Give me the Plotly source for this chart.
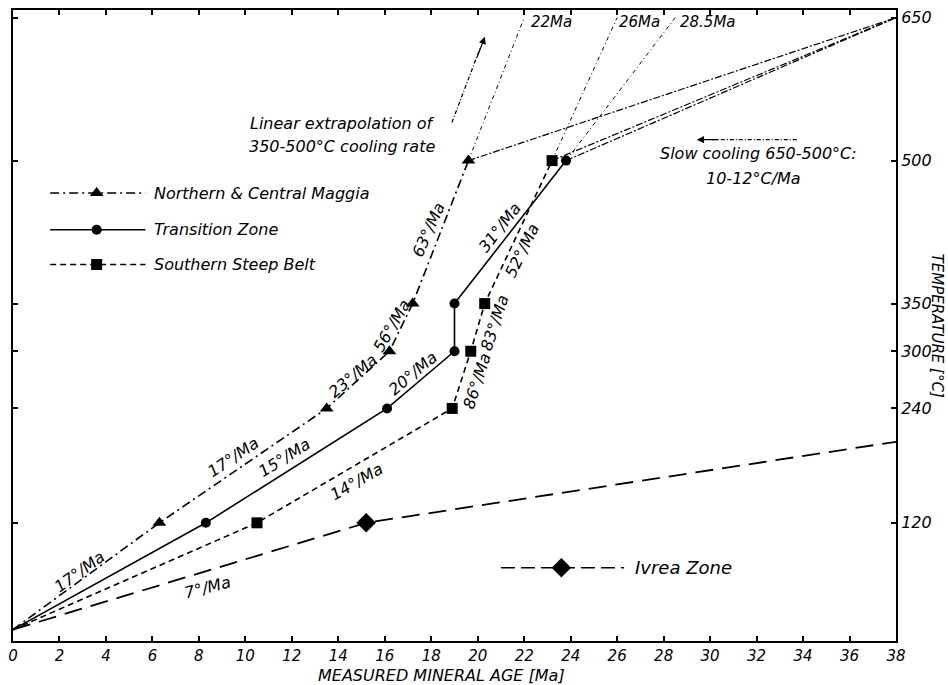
import plotly.graph_objects as go

# ---------------- data ----------------
T_SURFACE = 8
age_nc = [0, 6.3, 13.5, 16.2, 17.2, 19.6]      # Northern & Central Maggia
temp_nc = [T_SURFACE, 120, 240, 300, 350, 500]
age_tz = [0, 8.3, 16.1, 19.0, 19.0, 23.8]      # Transition Zone
temp_tz = [T_SURFACE, 120, 240, 300, 350, 500]
age_ssb = [0, 10.5, 18.9, 19.7, 20.3, 23.2]    # Southern Steep Belt
temp_ssb = [T_SURFACE, 120, 240, 300, 350, 500]
age_iv = [0, 15.2, 38]                          # Ivrea Zone
temp_iv = [T_SURFACE, 120, 205]

age_hot, temp_hot = 38, 650                     # slow-cooling convergence point
extrap_ages = [22, 28.5, 26]                    # extrapolated 650 °C ages (NC, TZ, SSB)

x_ticks = list(range(0, 39, 2))
y_ticks = [120, 240, 300, 350, 500, 650]

# legend sample geometry (data space)
leg_x = [1.6, 3.6, 5.7]
leg_y = [466, 427.5, 391]
iv_leg_x = [21.0, 23.6, 26.3]
iv_leg_y = 72.8

FONT = "DejaVu Sans"
BLK = "black"

fig = go.Figure()

series = [
    (age_nc, temp_nc, "9px,4px,2px,4px", "triangle-up", 12, "Northern & Central Maggia"),
    (age_tz, temp_tz, "solid", "circle", 10, "Transition Zone"),
    (age_ssb, temp_ssb, "6px,4px", "square", 11, "Southern Steep Belt"),
]

for (ax_, ty_, dash, sym, ms, name), ex in zip(series, extrap_ages):
    # slow cooling 650-500
    fig.add_trace(go.Scatter(x=[ax_[-1], age_hot], y=[ty_[-1], temp_hot], mode="lines",
                             line=dict(color=BLK, width=1.2, dash="7px,2px,2px,2px"),
                             showlegend=False, hoverinfo="skip"))
    # linear extrapolation of 350-500 cooling rate
    fig.add_trace(go.Scatter(x=[ax_[-1], ex], y=[ty_[-1], temp_hot], mode="lines",
                             line=dict(color=BLK, width=1.0, dash="4px,3px,1px,3px"),
                             showlegend=False, hoverinfo="skip"))
    # main series line
    fig.add_trace(go.Scatter(x=ax_, y=ty_, mode="lines",
                             line=dict(color=BLK, width=1.6, dash=dash),
                             showlegend=False, hoverinfo="skip"))
    # markers (excluding surface origin)
    fig.add_trace(go.Scatter(x=ax_[1:], y=ty_[1:], mode="markers",
                             marker=dict(symbol=sym, size=ms, color=BLK),
                             showlegend=False, name=name))

# Ivrea Zone
fig.add_trace(go.Scatter(x=age_iv, y=temp_iv, mode="lines",
                         line=dict(color=BLK, width=1.8, dash="18px,9px"),
                         showlegend=False, hoverinfo="skip"))
fig.add_trace(go.Scatter(x=age_iv[1:2], y=temp_iv[1:2], mode="markers",
                         marker=dict(symbol="diamond", size=15, color=BLK),
                         showlegend=False, name="Ivrea Zone"))

# hand-drawn legend samples
for (ax_, ty_, dash, sym, ms, name), ly in zip(series, leg_y):
    fig.add_trace(go.Scatter(x=[leg_x[0], leg_x[2]], y=[ly, ly], mode="lines",
                             line=dict(color=BLK, width=1.5, dash=dash),
                             showlegend=False, hoverinfo="skip"))
    fig.add_trace(go.Scatter(x=[leg_x[1]], y=[ly], mode="markers",
                             marker=dict(symbol=sym, size=ms, color=BLK),
                             showlegend=False, hoverinfo="skip"))
fig.add_trace(go.Scatter(x=[iv_leg_x[0], iv_leg_x[2]], y=[iv_leg_y, iv_leg_y], mode="lines",
                         line=dict(color=BLK, width=1.6, dash="14px,6px"),
                         showlegend=False, hoverinfo="skip"))
fig.add_trace(go.Scatter(x=[iv_leg_x[1]], y=[iv_leg_y], mode="markers",
                         marker=dict(symbol="diamond", size=15, color=BLK),
                         showlegend=False, hoverinfo="skip"))

ann = []
def txt(x, y, s, angle=0, size=16, xanchor="center", xref="x", yref="y"):
    ann.append(dict(x=x, y=y, xref=xref, yref=yref, text=s, showarrow=False,
                    textangle=angle, xanchor=xanchor, yanchor="middle",
                    font=dict(family=FONT, size=size, color=BLK, style="italic")))

# legend labels
txt(5.98, leg_y[0], "Northern & Central Maggia", xanchor="left")
txt(5.98, leg_y[1], "Transition Zone", xanchor="left")
txt(5.98, leg_y[2], "Southern Steep Belt", xanchor="left")
txt(26.7, iv_leg_y, "Ivrea Zone", size=18, xanchor="left")

# rate labels
txt(2.88, 68.6, "17°/Ma", -36)
txt(9.47, 188, "17°/Ma", -34)
txt(11.7, 188, "15°/Ma", -32)
txt(14.59, 274, "23°/Ma", -40)
txt(16.31, 327, "56°/Ma", -60)
txt(17.86, 427, "63°/Ma", -66)
txt(17.2, 277, "20°/Ma", -40)
txt(20.95, 430, "31°/Ma", -52)
txt(21.9, 406, "52°/Ma", -64)
txt(20.74, 330, "83°/Ma", -72)
txt(19.97, 268, "86°/Ma", -72)
txt(14.8, 163, "14°/Ma", -30)
txt(8.35, 52, "7°/Ma", -14)

# extrapolated ages
txt(22.2, 645, "22Ma", size=15, xanchor="left")
txt(26.0, 645, "26Ma", size=15, xanchor="left")
txt(28.6, 645, "28.5Ma", size=15, xanchor="left")

# explanatory notes
txt(14.18, 539, "Linear extrapolation of")
txt(14.14, 514.5, "350-500°C cooling rate")
txt(32.1, 507, "Slow cooling 650-500°C:")
txt(31.85, 481, "10-12°C/Ma")

# axis titles
txt(18.42, -0.054, "MEASURED MINERAL AGE [Ma]", xref="x", yref="paper")
txt(1.0475, 0.50, "TEMPERATURE [°C]", angle=90, size=15, xref="paper", yref="paper")

# arrows
ann.append(dict(x=20.31, y=630, ax=19.95, ay=607, xref="x", yref="y", axref="x", ayref="y",
                text="", showarrow=True, arrowhead=2, arrowsize=1.2, arrowwidth=1.2, arrowcolor=BLK))
ann.append(dict(x=29.43, y=522, ax=30.4, ay=522, xref="x", yref="y", axref="x", ayref="y",
                text="", showarrow=True, arrowhead=2, arrowsize=1.2, arrowwidth=1.2, arrowcolor=BLK))
shapes = [
    dict(type="line", x0=18.89, y0=540, x1=20.1, y1=618, xref="x", yref="y",
         line=dict(color=BLK, width=1.2, dash="4px,2px,1px,2px")),
    dict(type="line", x0=33.73, y0=522, x1=30.0, y1=522, xref="x", yref="y",
         line=dict(color=BLK, width=1.2, dash="4px,2px,1px,2px")),
]

fig.update_layout(
    width=948, height=685,
    margin=dict(l=13, r=52, t=10, b=44, autoexpand=False),
    paper_bgcolor="white", plot_bgcolor="white",
    font=dict(family=FONT, size=16, color=BLK, style="italic"),
    annotations=ann, shapes=shapes,
    showlegend=False, hovermode=False,
    xaxis=dict(range=[0, 38], tickvals=x_ticks, ticktext=[str(v) for v in x_ticks],
               ticks="inside", ticklen=5, tickwidth=1.5, tickcolor=BLK,
               showline=True, linewidth=2, linecolor=BLK, mirror="ticks",
               showgrid=False, zeroline=False, automargin=False,
               tickfont=dict(family=FONT, size=15, color=BLK, style="italic")),
    xaxis2=dict(range=[0, 38], overlaying="x", anchor="y", side="bottom",
                tickvals=[10, 20, 30], ticks="inside", ticklen=10, tickwidth=1.5,
                tickcolor=BLK, showticklabels=False, showline=False,
                showgrid=False, zeroline=False, automargin=False),
    yaxis=dict(range=[-4, 658], side="right", tickvals=y_ticks,
               ticktext=[str(v) for v in y_ticks],
               ticks="inside", ticklen=5, tickwidth=1.5, tickcolor=BLK,
               showline=True, linewidth=2, linecolor=BLK, mirror="ticks",
               showgrid=False, zeroline=False, automargin=False,
               tickfont=dict(family=FONT, size=16, color=BLK, style="italic")),
)

# remove the default 8px page margin so the figure fills the window exactly
fig.write_html("out.html",
               config={"displayModeBar": False},
               post_script="document.body.style.margin='0';document.body.style.overflow='hidden';")
